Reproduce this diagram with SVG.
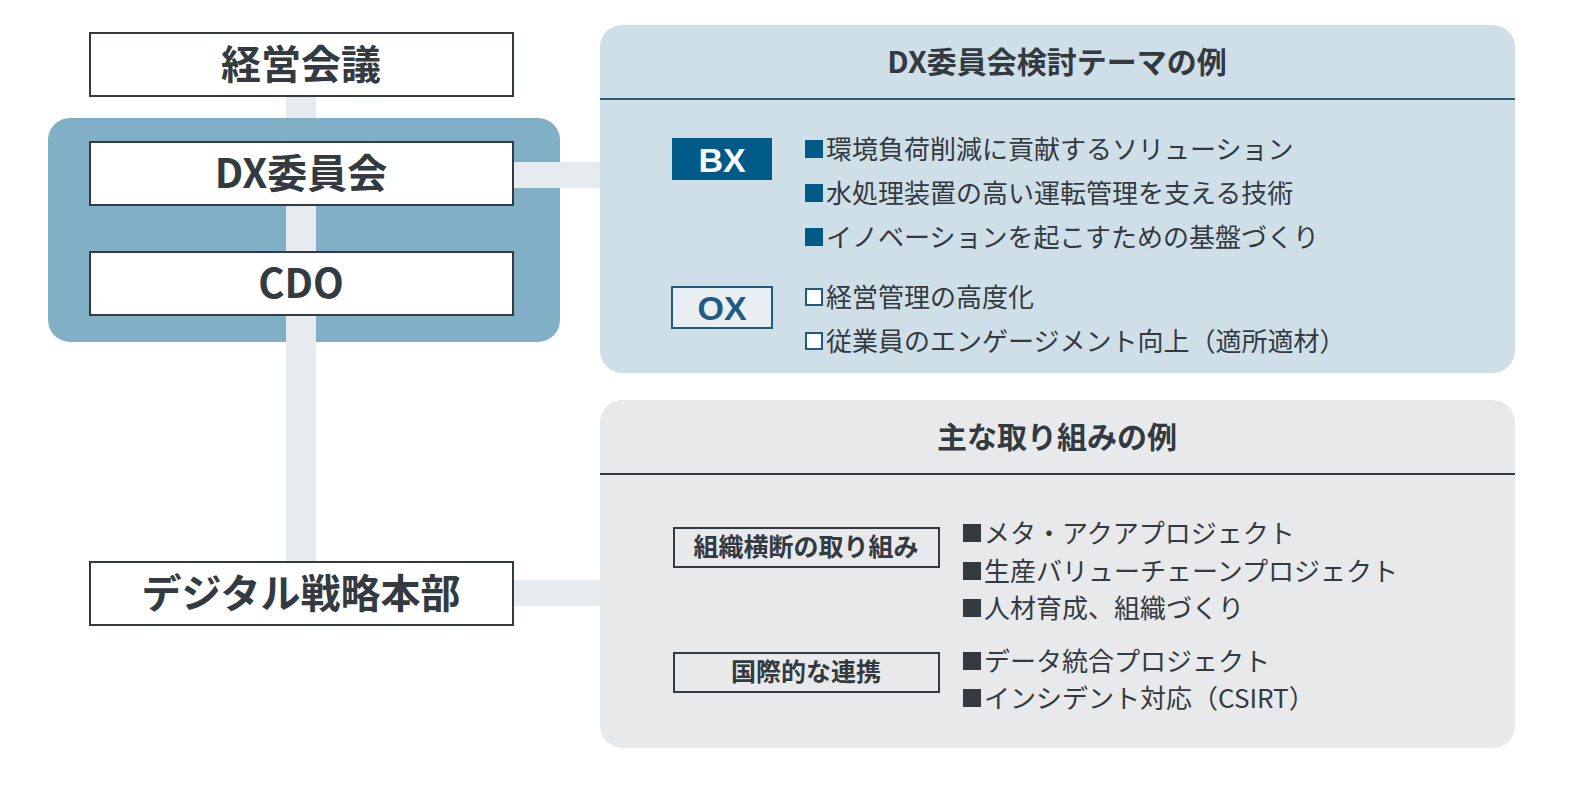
<svg xmlns="http://www.w3.org/2000/svg" width="1592" height="790" viewBox="0 0 1592 790">
<style>
text{font-family:"Noto Sans CJK JP","Noto Sans",sans-serif;fill:#333a40}
.nb{fill:#fff;stroke:#333a40;stroke-width:2}
.nt{font-size:40px;font-weight:bold;text-anchor:middle}
.it{font-size:26px}
.ht{font-size:30px;font-weight:bold;text-anchor:middle}
.lb{fill:none;stroke:#333a40;stroke-width:2}
.lt{font-size:25px;font-weight:bold;text-anchor:middle}
.con{fill:#e6ebef}
</style>
<rect width="1592" height="790" fill="#fff"/>
<g id="connectors">
<rect class="con" x="286" y="96" width="30" height="466"/>
</g>
<g id="dxgroup"><rect x="48" y="118" width="512" height="224" rx="22" fill="#80afc6"/></g>
<g id="connectors2">
<rect class="con" x="286" y="205" width="30" height="47"/>
<rect class="con" x="286" y="315" width="30" height="27"/>
<rect class="con" x="513" y="162" width="87" height="26"/>
<rect class="con" x="513" y="580" width="87" height="26"/>
</g>
<g id="keiei"><rect class="nb" x="90" y="33" width="423" height="63"/><text class="nt" x="301" y="79">経営会議</text></g>
<g id="dx"><rect class="nb" x="90" y="142" width="423" height="63"/><text class="nt" x="301" y="188">DX委員会</text></g>
<g id="cdo"><rect class="nb" x="90" y="252" width="423" height="63"/><text class="nt" x="301" y="298">CDO</text></g>
<g id="honbu"><rect class="nb" x="90" y="562" width="423" height="63"/><text class="nt" x="301" y="608">デジタル戦略本部</text></g>
<g id="themes">
<rect x="600" y="25" width="915" height="348" rx="22" fill="#cfdfe8"/>
<line x1="600" y1="99" x2="1515" y2="99" stroke="#2d5e80" stroke-width="2"/>
<text class="ht" x="1057" y="73">DX委員会検討テーマの例</text>
<rect x="672" y="138" width="100" height="42" fill="#005a87"/>
<text x="722" y="172" font-size="34" font-weight="bold" text-anchor="middle" style="fill:#fff;font-family:'Liberation Sans',sans-serif">BX</text>
<rect x="672" y="287" width="100" height="41" fill="#e8eef2" stroke="#1f5b82" stroke-width="2"/>
<text x="722" y="320" font-size="34" font-weight="bold" text-anchor="middle" style="fill:#1f5b82;font-family:'Liberation Sans',sans-serif">OX</text>
<g fill="#005a87"><rect x="805" y="140" width="18" height="18"/><rect x="805" y="184" width="18" height="18"/><rect x="805" y="228" width="18" height="18"/></g>
<g fill="#fff" stroke="#1f5b82" stroke-width="2"><rect x="806" y="289" width="16" height="16"/><rect x="806" y="333" width="16" height="16"/></g>
<text class="it" x="826" y="159">環境負荷削減に貢献するソリューション</text>
<text class="it" x="826" y="203">水処理装置の高い運転管理を支える技術</text>
<text class="it" x="826" y="247">イノベーションを起こすための基盤づくり</text>
<text class="it" x="826" y="307">経営管理の高度化</text>
<text class="it" x="826" y="351">従業員のエンゲージメント向上（適所適材）</text>
</g>
<g id="initiatives">
<rect x="600" y="400" width="915" height="348" rx="22" fill="#e8e9eb"/>
<line x1="600" y1="474" x2="1515" y2="474" stroke="#333a40" stroke-width="2"/>
<text class="ht" x="1057" y="448">主な取り組みの例</text>
<rect class="lb" x="674" y="528" width="265" height="39"/>
<text class="lt" x="806" y="556">組織横断の取り組み</text>
<rect class="lb" x="674" y="653" width="265" height="39"/>
<text class="lt" x="806" y="681">国際的な連携</text>
<g fill="#333a40"><rect x="963" y="524" width="18" height="18"/><rect x="963" y="562" width="18" height="18"/><rect x="963" y="599" width="18" height="18"/><rect x="963" y="652" width="18" height="18"/><rect x="963" y="689" width="18" height="18"/></g>
<text class="it" x="984" y="543">メタ・アクアプロジェクト</text>
<text class="it" x="984" y="581">生産バリューチェーンプロジェクト</text>
<text class="it" x="984" y="618">人材育成、組織づくり</text>
<text class="it" x="984" y="671">データ統合プロジェクト</text>
<text class="it" x="984" y="708">インシデント対応（CSIRT）</text>
</g>
</svg>
